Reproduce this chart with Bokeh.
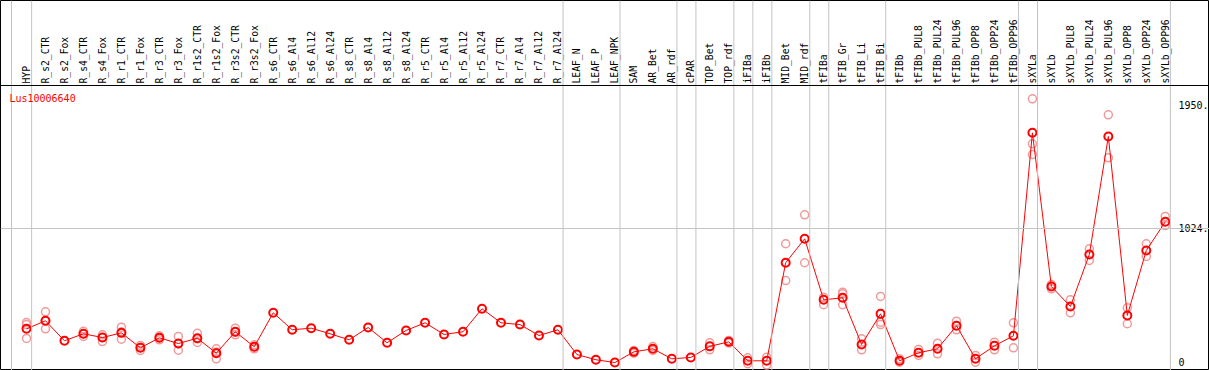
from bokeh.plotting import figure
from bokeh.models import Range1d, LinearAxis, FixedTicker, Span, Label, ColumnDataSource
from bokeh.embed import file_html
from bokeh.resources import INLINE

# ---------------- data ----------------
categories = ["HYP", "R_s2_CTR", "R_s2_Fox", "R_s4_CTR", "R_s4_Fox", "R_r1_CTR", "R_r1_Fox",
              "R_r3_CTR", "R_r3_Fox", "R_r1s2_CTR", "R_r1s2_Fox", "R_r3s2_CTR", "R_r3s2_Fox",
              "R_s6_CTR", "R_s6_Al4", "R_s6_Al12", "R_s6_Al24", "R_s8_CTR", "R_s8_Al4",
              "R_s8_Al12", "R_s8_Al24", "R_r5_CTR", "R_r5_Al4", "R_r5_Al12", "R_r5_Al24",
              "R_r7_CTR", "R_r7_Al4", "R_r7_Al12", "R_r7_Al24", "LEAF_N", "LEAF_P", "LEAF_NPK",
              "SAM", "AR_Bet", "AR_rdf", "cPAR", "TOP_Bet", "TOP_rdf", "iFIBa", "iFIBb",
              "MID_Bet", "MID_rdf", "tFIBa", "tFIB_Gr", "tFIB_Li", "tFIB_Bi", "tFIBb",
              "tFIBb_PUL8", "tFIBb_PUL24", "tFIBb_PUL96", "tFIBb_OPP8", "tFIBb_OPP24",
              "tFIBb_OPP96", "sXYLa", "sXYLb", "sXYLb_PUL8", "sXYLb_PUL24", "sXYLb_PUL96",
              "sXYLb_OPP8", "sXYLb_OPP24", "sXYLb_OPP96"]

means = [274, 334, 185, 237, 209, 244, 132, 207, 164, 204, 92, 252, 140,
         394, 267, 279, 237, 192, 284, 170, 262, 319, 232, 252, 424, 319, 306, 224, 267,
         82, 43, 22, 102, 125, 50, 60, 143, 177, 35, 35, 768, 947, 491, 506, 157, 386,
         35, 95, 125, 297, 50, 147, 222, 1739, 590, 441, 830, 1712, 374, 860, 1074]

replicates = [
    [321, 306, 202], [401, 274, 334], [], [256, 217, 237], [229, 179, 209],
    [286, 197, 250], [150, 112, 134], [222, 192, 207], [217, 114, 162],
    [241, 172, 199], [125, 50, 100], [279, 229, 248], [155, 125, 140],
    [], [], [], [], [], [], [], [], [], [], [], [], [], [], [], [],
    [], [], [],
    [112, 92], [142, 112], [], [], [170, 117], [187, 168], [57, 13], [62, 3],
    [910, 635], [1126, 768], [510, 454], [548, 536, 454], [200, 117], [516, 324, 306],
    [50, 25], [120, 75], [167, 87], [331, 267], [75, 25], [174, 117], [319, 132],
    [1993, 1657, 1577], [605, 573], [491, 394], [872, 785], [1874, 1552],
    [431, 312], [910, 815], [1114, 1046],
]

group_sizes = [1, 28, 3, 3, 1, 2, 1, 1, 2, 1, 3, 7, 1, 7]
y_ticks = [0, 1024, 1950]
y_tick_labels = ["0", "1024.", "1950."]
gene_id = "Lus10006640"

# ---------------- layout constants ----------------
W, H = 1209, 370
X_START, X_END = -1.37, 62.33
Y_START, Y_END = -37.4, 2728.1
HEADER_Y = 2092.8
LABEL_X = 60.59
GRID = "#c4c4c4"
FONT = "DejaVu Sans Mono"

p = figure(width=W, height=H, output_backend="svg", toolbar_location=None,
           x_range=Range1d(X_START, X_END), y_range=Range1d(Y_START, Y_END),
           x_axis_location=None, y_axis_location=None,
           min_border_left=0, min_border_right=0, min_border_top=0, min_border_bottom=0,
           outline_line_color="black", outline_line_width=1,
           background_fill_color="white", border_fill_color="white")
p.grid.visible = False

xs = list(range(len(categories)))

# group separators (vertical grey lines)
p.add_layout(Span(location=-0.79, dimension="height", line_color=GRID, line_width=1))
pos = -1
for g in group_sizes:
    pos += g
    p.add_layout(Span(location=pos + 0.27, dimension="height", line_color=GRID, line_width=1))

# horizontal reference line
p.add_layout(Span(location=y_ticks[1], dimension="width", line_color=GRID, line_width=1))
# header separator
p.add_layout(Span(location=HEADER_Y, dimension="width", line_color="black", line_width=1))

# category labels in header
top_axis = LinearAxis(ticker=FixedTicker(ticks=xs),
                      major_label_overrides={i: c for i, c in enumerate(categories)},
                      fixed_location=HEADER_Y,
                      major_label_orientation="vertical",
                      axis_line_color=None, major_tick_line_color=None,
                      minor_tick_line_color=None, major_tick_in=0, major_tick_out=0,
                      major_label_standoff=2,
                      major_label_text_font=FONT, major_label_text_font_size="9.7px",
                      major_label_text_color="black")
p.add_layout(top_axis, "above")

# value labels at right (upper ticks through an axis)
right_axis = LinearAxis(ticker=FixedTicker(ticks=y_ticks[1:]),
                        major_label_overrides=dict(zip(y_ticks[1:], y_tick_labels[1:])),
                        fixed_location=LABEL_X,
                        axis_line_color=None, major_tick_line_color=None,
                        minor_tick_line_color=None, major_tick_in=0, major_tick_out=0,
                        major_label_standoff=2,
                        major_label_text_font=FONT, major_label_text_font_size="10px",
                        major_label_text_color="black")
p.add_layout(right_axis, "right")
# zero label, nudged up to stay inside the frame
p.add_layout(Label(x=LABEL_X, y=y_ticks[0], x_offset=2, y_offset=3, text=y_tick_labels[0],
                   text_font=FONT, text_font_size="10px", text_color="black",
                   text_baseline="middle", text_align="left"))

# replicate points
rx, ry = [], []
for i, reps in enumerate(replicates):
    for v in reps:
        rx.append(i)
        ry.append(v)
p.scatter(rx, ry, marker="circle", size=8, fill_color=None,
          line_color="#f09a9a", line_width=1.5)

# mean line + points
src = ColumnDataSource(dict(x=xs, y=means))
p.line("x", "y", source=src, line_color="red", line_width=1)
p.scatter("x", "y", source=src, marker="circle", size=8, fill_color=None,
          line_color="red", line_width=2)

p.add_layout(Label(x=-0.9, y=1998, text=gene_id, text_color="red", text_font=FONT,
                   text_font_size="10px", text_baseline="middle", text_align="left"))

open("out.html", "w").write(file_html(p, INLINE))
